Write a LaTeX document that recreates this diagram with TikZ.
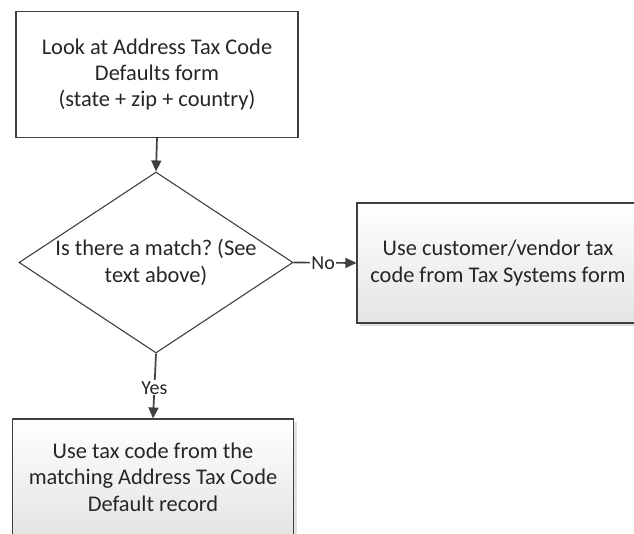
\documentclass[tikz,border=0pt]{standalone}
\usepackage{fontspec}
\setmainfont{Carlito}
\usetikzlibrary{shapes.geometric,arrows.meta,shadows}
\definecolor{linec}{HTML}{404040}
\definecolor{textc}{HTML}{262626}
\definecolor{shadec}{HTML}{E4E4E4}
\frenchspacing
\begin{document}
\begin{tikzpicture}[x=1bp,y=-1bp,
  every node/.style={text=textc},
  txt/.style={font=\fontsize{22.5}{26.5}\selectfont, align=center},
  plainbox/.style={draw=linec, line width=1.1bp, fill=white, inner sep=0pt, txt},
  shadebox/.style={draw=linec, line width=1.1bp, top color=white, bottom color=shadec, inner sep=0pt, txt,
     drop shadow={shadow xshift=3bp, shadow yshift=-3bp, opacity=0.2, fill=black!60}},
  dia/.style={draw=linec, line width=1.1bp, fill=white, diamond, inner sep=0pt},
  conn/.style={draw=linec, line width=1.7bp, -{Triangle[length=11bp,width=10bp]}},
  lbl/.style={fill=white, inner sep=1bp, font=\fontsize{20}{22}\selectfont}
]
\useasboundingbox (0,0) rectangle (634,534);
\fill[white] (0,0) rectangle (634,534);

\node[plainbox, minimum width=282bp, minimum height=126bp] (top) at (157,74.5)
  {Look at Address Tax Code\\Defaults form\\(state + zip + country)};

\node[dia, minimum width=274bp, minimum height=181bp] (d) at (156,262.5) {};
\node[txt] (dtext) at (d.center) {Is there a match? (See\\text above)};

\node[shadebox, minimum width=282bp, minimum height=120bp] (right) at (498,263)
  {Use customer/vendor tax\\code from Tax Systems form};

\node[shadebox, minimum width=281bp, minimum height=116bp] (bot) at (153,477)
  {Use tax code from the\\matching Address Tax Code\\Default record};

\draw[conn] (top.south) -- (d.north);
\draw[conn] (d.east) -- node[lbl, pos=0.47] (no) {No} (right.west);
\draw[conn] (d.south) -- node[lbl, pos=0.53] (yes) {Yes} (bot.north);
\end{tikzpicture}
\end{document}
